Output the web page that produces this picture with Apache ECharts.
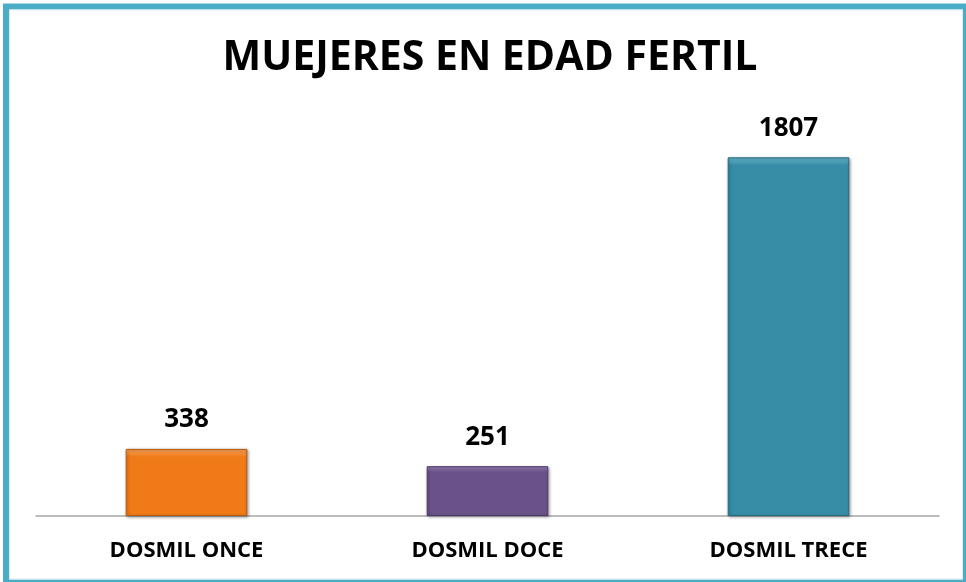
<!DOCTYPE html>
<html>
<head>
<meta charset="utf-8">
<script src="https://cdn.jsdelivr.net/npm/echarts@6/dist/echarts.min.js"></script>
<style>
html,body{margin:0;padding:0;background:#fff;}
#chart{width:966px;height:582px;}
</style>
</head>
<body>
<div id="chart"></div>
<script>
const titleText = 'MUEJERES EN EDAD FERTIL';
const categories = ['DOSMIL ONCE', 'DOSMIL DOCE', 'DOSMIL TRECE'];
const values = [338, 251, 1807];
const barColors = ['#f07a17', '#6a5189', '#378ca6'];
const borderColors = ['#b85a10', '#4e3a68', '#27697d'];
const topColors = ['#f9a45a', '#9a84b6', '#69b8cf'];

const chart = echarts.init(document.getElementById('chart'), null, {renderer: 'canvas'});

const data = values.map((v, i) => ({
  value: v,
  itemStyle: {
    color: {
      type: 'linear', x: 0, y: 0, x2: 0, y2: 1,
      colorStops: [
        {offset: 0, color: topColors[i]},
        {offset: Math.min(0.12, 8 / (v * 397 / 2000)), color: barColors[i]},
        {offset: 1, color: barColors[i]}
      ]
    },
    borderColor: borderColors[i],
    borderWidth: 1,
    shadowColor: 'rgba(0,0,0,0.35)',
    shadowBlur: 3,
    shadowOffsetX: 1,
    shadowOffsetY: 1
  }
}));

chart.setOption({
  backgroundColor: '#ffffff',
  animation: false,
  title: {
    text: titleText,
    left: 485,
    textAlign: 'center',
    top: 33,
    textStyle: {
      fontFamily: 'Open Sans',
      fontWeight: 'bold',
      fontSize: 41,
      color: '#000'
    }
  },
  graphic: [
    {
      type: 'rect',
      shape: {x: 6, y: 6.5, width: 960, height: 576},
      style: {fill: 'none', stroke: '#4bacc6', lineWidth: 6},
      silent: true,
      z: 100
    },
    {
      type: 'rect',
      shape: {x: 9.5, y: 10, width: 953, height: 569},
      style: {fill: 'none', stroke: '#daeef4', lineWidth: 1},
      silent: true,
      z: 100
    }
  ],
  grid: {
    left: 36, right: 27, top: 119, bottom: 66,
    containLabel: false
  },
  xAxis: {
    type: 'category',
    data: categories,
    axisLine: {show: true, lineStyle: {color: '#a6a6a6', width: 1.5}},
    axisTick: {show: false},
    axisLabel: {
      margin: 24,
      fontFamily: 'Open Sans',
      fontWeight: 'bold',
      fontSize: 22,
      color: '#000'
    }
  },
  yAxis: {
    type: 'value',
    min: 0,
    max: 2000,
    show: false,
    splitLine: {show: false}
  },
  series: [{
    type: 'bar',
    data: data,
    barWidth: '40.4%',
    label: {
      show: true,
      position: 'top',
      distance: 16,
      fontFamily: 'Open Sans',
      fontWeight: 'bold',
      fontSize: 26,
      color: '#000'
    }
  }]
});
</script>
</body>
</html>
